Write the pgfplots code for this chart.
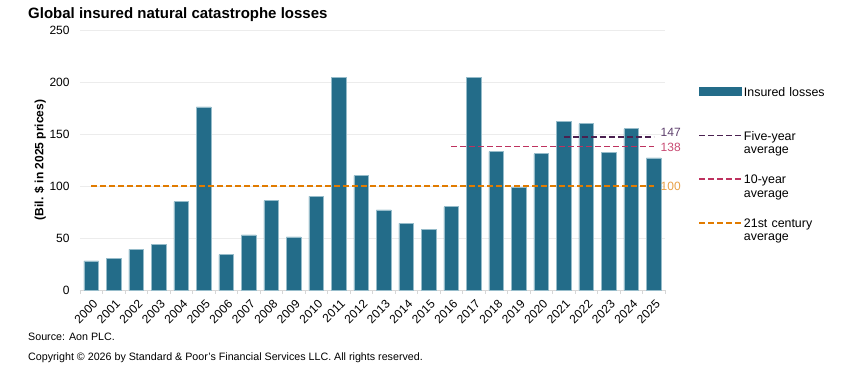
\documentclass[border=0pt]{standalone}
\usepackage{pgfplots}
\pgfplotsset{compat=1.18}
\usepackage{fontspec}
\setmainfont{Liberation Sans}
\definecolor{barcol}{RGB}{35,108,137}
\definecolor{baredge}{RGB}{150,188,202}
\definecolor{fivecol}{RGB}{74,33,80}
\definecolor{tencol}{RGB}{190,50,95}
\definecolor{cencol}{RGB}{225,123,0}
\definecolor{fivetxt}{RGB}{95,65,110}
\definecolor{tentxt}{RGB}{200,75,115}
\definecolor{centxt}{RGB}{232,160,70}
\definecolor{gridcol}{RGB}{236,236,236}
\definecolor{axcol}{RGB}{215,215,215}
\pgfplotsset{
  linelegend/.style={legend image code/.code={\path[draw=none,fill=none] (0pt,0pt) -- (0pt,9pt); \draw[##1, line width=1.8pt] (0pt,4.5pt) -- (42pt,4.5pt);}},
  barlegend/.style={legend image code/.code={\path[draw=none,fill=none] (0pt,0pt) -- (0pt,9pt); \fill[barcol] (0pt,1.4pt) rectangle (42pt,8.8pt);}},
}
\pgfplotstableread{
x val
0 28
1 30
2 39
3 44
4 85
5 176
6 34
7 53
8 86
9 51
10 90
11 204
12 110
13 77
14 64
15 58
16 80
17 204
18 133
19 99
20 131
21 162
22 160
23 132
24 155
25 127
}\losses
\begin{document}
\begin{tikzpicture}
\path[use as bounding box] (0pt,0pt) rectangle (849pt,379pt);
\node[anchor=base west, font=\fontsize{15}{18}\selectfont\bfseries, inner sep=0pt] at (28pt,360.5pt) {Global insured natural catastrophe losses};
\node[anchor=base west, font=\fontsize{10.7}{12}\selectfont, inner sep=0pt] at (28pt,38pt) {Source: Aon PLC.};
\node[anchor=base west, font=\fontsize{10.7}{12}\selectfont, inner sep=0pt] at (28pt,18pt) {Copyright © 2026 by Standard \& Poor’s Financial Services LLC. All rights reserved.};
\begin{axis}[
  at={(80pt,89pt)}, anchor=south west,
  scale only axis, width=585pt, height=260pt,
  xmin=-0.5, xmax=25.5, ymin=0, ymax=250,
  clip=false,
  axis x line*=bottom, axis y line*=left,
  axis line style={-},
  x axis line style={draw=axcol, line width=0.8pt},
  y axis line style={draw=none},
  ytick={0,50,100,150,200,250},
  ymajorgrids, grid style={draw=gridcol, line width=0.8pt},
  ytick style={draw=none},
  xtick={0,...,25},
  xticklabels={2000,2001,2002,2003,2004,2005,2006,2007,2008,2009,2010,2011,2012,2013,2014,2015,2016,2017,2018,2019,2020,2021,2022,2023,2024,2025},
  xtick style={draw=none},
  minor xtick={-0.5,0.5,...,25.5},
  minor x tick style={draw=axcol, line width=0.8pt},
  minor tick length=4pt,
  tick align=outside,
  /pgf/number format/assume math mode=true,
  tick label style={font=\fontsize{12}{14}\selectfont},
  yticklabel style={anchor=east, inner sep=0pt, xshift=-6pt},
  xticklabel style={xshift=4.2pt, yshift=-7.8pt, rotate=45, anchor=east, inner sep=0pt},
  ylabel={(Bil. \$ in 2025 prices)},
  ylabel style={font=\fontsize{12}{14}\selectfont\bfseries},
  legend cell align=left,
  legend style={at={(1.0564,0.7808)}, anchor=north west, draw=none, fill=none,
    inner sep=0pt, row sep=0pt, column sep=2pt,
    font=\fontsize{12.4}{13.3}\selectfont,
    cells={anchor=base west},
    nodes={inner sep=0pt, text width=90pt, text height=9pt, text depth=34.7pt}},
]
\addplot[ybar, bar width=14.7pt, fill=barcol, draw=baredge, line width=0.7pt, barlegend]
  table[x=x, y=val] {\losses};
\addlegendentry{Insured losses}
\addplot[fivecol, line width=1.8pt, dash pattern=on 6pt off 3pt, linelegend]
  coordinates {(21,147) (25,147)};
\addlegendentry{{Five-year\newline average}}
\addplot[tencol, line width=1.8pt, dash pattern=on 6pt off 3pt, linelegend]
  coordinates {(16,138) (25,138)};
\addlegendentry{{10-year\newline average}}
\addplot[cencol, line width=1.8pt, dash pattern=on 6pt off 3pt, linelegend]
  coordinates {(0,100) (25,100)};
\addlegendentry{{21st century\newline average}}
\node[anchor=west, inner sep=0pt, text=fivetxt, font=\fontsize{12}{14}\selectfont] at (axis cs:25.3,151.5) {147};
\node[anchor=west, inner sep=0pt, text=tentxt, font=\fontsize{12}{14}\selectfont] at (axis cs:25.3,137.5) {138};
\node[anchor=west, inner sep=0pt, text=centxt, font=\fontsize{12}{14}\selectfont] at (axis cs:25.3,99.5) {100};
\end{axis}
\end{tikzpicture}
\end{document}
